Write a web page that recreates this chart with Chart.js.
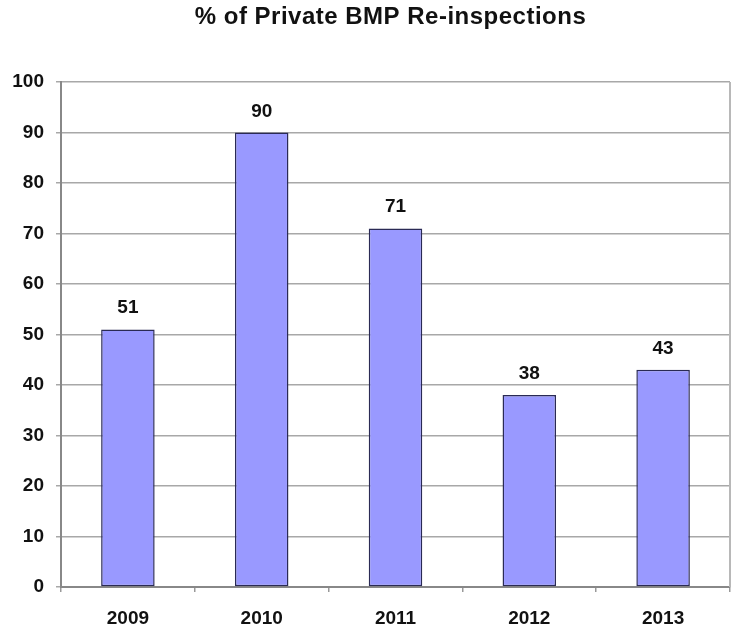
<!DOCTYPE html>
<html>
<head>
<meta charset="utf-8">
<script src="https://cdn.jsdelivr.net/npm/chart.js@4/dist/chart.umd.min.js"></script>
<style>
  html, body { margin: 0; padding: 0; background: #fff; }
  #wrap { width: 736px; height: 630px; }
</style>
</head>
<body>
<div id="wrap"><canvas id="barChart" width="736" height="630"></canvas></div>
<script>
const years = ['2009', '2010', '2011', '2012', '2013'];
const reinspectPct = [51, 90, 71, 38, 43];
const titleText = '% of Private BMP Re-inspections';

const FONT = '"Liberation Sans", Arial, sans-serif';

// title + value labels + right frame edge
const decorations = {
    id: 'decorations',
    afterDatasetsDraw(chart) {
        const {ctx, chartArea} = chart;
        ctx.save();

        ctx.strokeStyle = '#b8b8b8';
        ctx.lineWidth = 2;
        ctx.beginPath();
        ctx.moveTo(chartArea.right, chartArea.top);
        ctx.lineTo(chartArea.right, chartArea.bottom);
        ctx.stroke();

        ctx.fillStyle = '#111';
        ctx.font = 'bold 19px ' + FONT;
        ctx.textAlign = 'center';
        ctx.textBaseline = 'alphabetic';
        const meta = chart.getDatasetMeta(0);
        meta.data.forEach((bar, i) => {
            ctx.fillText(String(reinspectPct[i]), bar.x, bar.y - 16);
        });

        ctx.font = 'bold 24px ' + FONT;
        ctx.letterSpacing = '0.5px';
        ctx.fillText(titleText, (chartArea.left + chartArea.right) / 2 - 5, 24);
        ctx.restore();
    }
};

new Chart(document.getElementById('barChart'), {
    type: 'bar',
    data: {
        labels: years,
        datasets: [{
            data: reinspectPct,
            backgroundColor: '#9999ff',
            borderColor: '#2a2a55',
            borderWidth: 1.5,
            borderSkipped: false,
            barPercentage: 0.4,
            categoryPercentage: 1.0
        }]
    },
    options: {
        responsive: false,
        animation: false,
        layout: { padding: { top: 82, right: 6, left: 0, bottom: 0 } },
        plugins: {
            legend: { display: false },
            title: { display: false },
            tooltip: { enabled: false }
        },
        scales: {
            x: {
                offset: true,
                grid: {
                    offset: true,
                    drawOnChartArea: false,
                    drawTicks: true,
                    tickLength: 5,
                    color: '#999',
                    lineWidth: 1.5
                },
                border: { color: '#888', width: 2 },
                ticks: {
                    color: '#111',
                    font: { family: FONT, size: 19, weight: 'bold' },
                    padding: 15
                },
                afterFit(scale) { scale.height = 43; }
            },
            y: {
                min: 0,
                max: 100,
                ticks: {
                    stepSize: 10,
                    color: '#111',
                    font: { family: FONT, size: 19, weight: 'bold' },
                    padding: 12
                },
                grid: {
                    color: '#a8a8a8',
                    lineWidth: 1.5,
                    tickLength: 5
                },
                border: { color: '#888', width: 2 },
                afterFit(scale) { scale.width = 61; }
            }
        }
    },
    plugins: [decorations]
});
</script>
</body>
</html>
